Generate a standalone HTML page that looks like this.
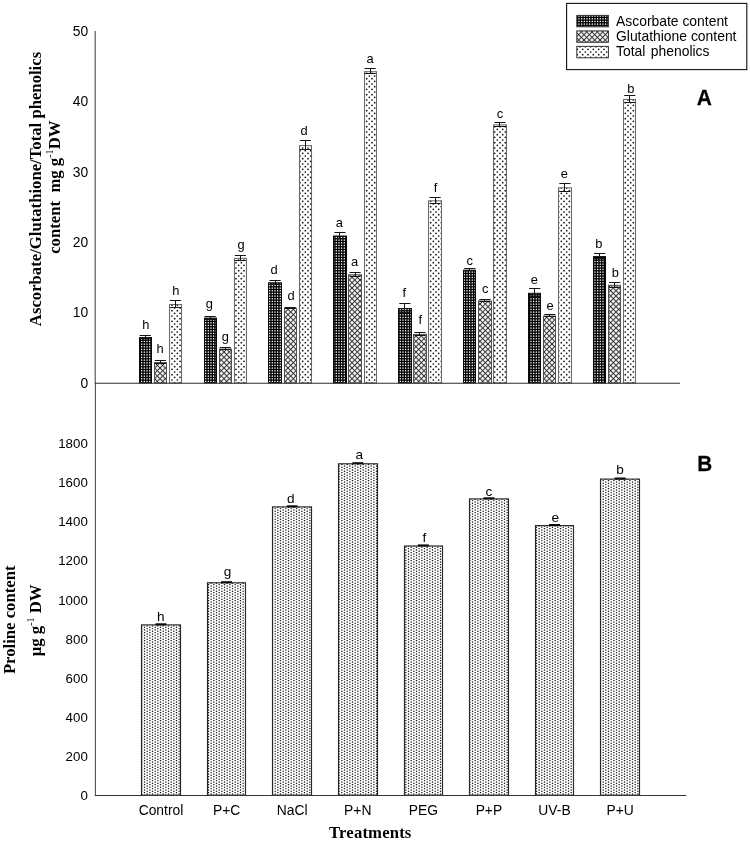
<!DOCTYPE html>
<html><head><meta charset="utf-8"><title>Chart</title>
<style>html,body{margin:0;padding:0;background:#fff}svg{display:block;will-change:transform}text{font-family:"Liberation Sans",sans-serif;fill:#000}.s{font-family:"Liberation Serif",serif;font-weight:bold}</style></head><body>
<svg width="750" height="841" viewBox="0 0 750 841">
<rect width="750" height="841" fill="#fff"/>
<defs>
<pattern id="pa" x="0" y="0" width="8" height="8" patternUnits="userSpaceOnUse"><rect width="8" height="8" fill="#000"/><rect x="-3.017" y="-3.167" width="1.3" height="1.3" fill="#fff"/><rect x="-3.017" y="-0.500" width="1.3" height="1.3" fill="#fff"/><rect x="-3.017" y="2.167" width="1.3" height="1.3" fill="#fff"/><rect x="-3.017" y="4.833" width="1.3" height="1.3" fill="#fff"/><rect x="-3.017" y="7.500" width="1.3" height="1.3" fill="#fff"/><rect x="-0.350" y="-3.167" width="1.3" height="1.3" fill="#fff"/><rect x="-0.350" y="-0.500" width="1.3" height="1.3" fill="#fff"/><rect x="-0.350" y="2.167" width="1.3" height="1.3" fill="#fff"/><rect x="-0.350" y="4.833" width="1.3" height="1.3" fill="#fff"/><rect x="-0.350" y="7.500" width="1.3" height="1.3" fill="#fff"/><rect x="2.317" y="-3.167" width="1.3" height="1.3" fill="#fff"/><rect x="2.317" y="-0.500" width="1.3" height="1.3" fill="#fff"/><rect x="2.317" y="2.167" width="1.3" height="1.3" fill="#fff"/><rect x="2.317" y="4.833" width="1.3" height="1.3" fill="#fff"/><rect x="2.317" y="7.500" width="1.3" height="1.3" fill="#fff"/><rect x="4.983" y="-3.167" width="1.3" height="1.3" fill="#fff"/><rect x="4.983" y="-0.500" width="1.3" height="1.3" fill="#fff"/><rect x="4.983" y="2.167" width="1.3" height="1.3" fill="#fff"/><rect x="4.983" y="4.833" width="1.3" height="1.3" fill="#fff"/><rect x="4.983" y="7.500" width="1.3" height="1.3" fill="#fff"/><rect x="7.650" y="-3.167" width="1.3" height="1.3" fill="#fff"/><rect x="7.650" y="-0.500" width="1.3" height="1.3" fill="#fff"/><rect x="7.650" y="2.167" width="1.3" height="1.3" fill="#fff"/><rect x="7.650" y="4.833" width="1.3" height="1.3" fill="#fff"/><rect x="7.650" y="7.500" width="1.3" height="1.3" fill="#fff"/></pattern>
<pattern id="pg" x="0" y="0" width="16" height="16" patternUnits="userSpaceOnUse"><rect width="16" height="16" fill="#c0c0c0"/><circle cx="-2.667" cy="-5.333" r="1.05" fill="#fff"/><circle cx="-5.333" cy="-2.667" r="1.05" fill="#fff"/><circle cx="-2.667" cy="0.000" r="1.05" fill="#fff"/><circle cx="-5.333" cy="2.667" r="1.05" fill="#fff"/><circle cx="-2.667" cy="5.333" r="1.05" fill="#fff"/><circle cx="-5.333" cy="8.000" r="1.05" fill="#fff"/><circle cx="-2.667" cy="10.667" r="1.05" fill="#fff"/><circle cx="-5.333" cy="13.333" r="1.05" fill="#fff"/><circle cx="-2.667" cy="16.000" r="1.05" fill="#fff"/><circle cx="-5.333" cy="18.667" r="1.05" fill="#fff"/><circle cx="-2.667" cy="21.333" r="1.05" fill="#fff"/><circle cx="-5.333" cy="24.000" r="1.05" fill="#fff"/><circle cx="2.667" cy="-5.333" r="1.05" fill="#fff"/><circle cx="0.000" cy="-2.667" r="1.05" fill="#fff"/><circle cx="2.667" cy="0.000" r="1.05" fill="#fff"/><circle cx="0.000" cy="2.667" r="1.05" fill="#fff"/><circle cx="2.667" cy="5.333" r="1.05" fill="#fff"/><circle cx="0.000" cy="8.000" r="1.05" fill="#fff"/><circle cx="2.667" cy="10.667" r="1.05" fill="#fff"/><circle cx="0.000" cy="13.333" r="1.05" fill="#fff"/><circle cx="2.667" cy="16.000" r="1.05" fill="#fff"/><circle cx="0.000" cy="18.667" r="1.05" fill="#fff"/><circle cx="2.667" cy="21.333" r="1.05" fill="#fff"/><circle cx="0.000" cy="24.000" r="1.05" fill="#fff"/><circle cx="8.000" cy="-5.333" r="1.05" fill="#fff"/><circle cx="5.333" cy="-2.667" r="1.05" fill="#fff"/><circle cx="8.000" cy="0.000" r="1.05" fill="#fff"/><circle cx="5.333" cy="2.667" r="1.05" fill="#fff"/><circle cx="8.000" cy="5.333" r="1.05" fill="#fff"/><circle cx="5.333" cy="8.000" r="1.05" fill="#fff"/><circle cx="8.000" cy="10.667" r="1.05" fill="#fff"/><circle cx="5.333" cy="13.333" r="1.05" fill="#fff"/><circle cx="8.000" cy="16.000" r="1.05" fill="#fff"/><circle cx="5.333" cy="18.667" r="1.05" fill="#fff"/><circle cx="8.000" cy="21.333" r="1.05" fill="#fff"/><circle cx="5.333" cy="24.000" r="1.05" fill="#fff"/><circle cx="13.333" cy="-5.333" r="1.05" fill="#fff"/><circle cx="10.667" cy="-2.667" r="1.05" fill="#fff"/><circle cx="13.333" cy="0.000" r="1.05" fill="#fff"/><circle cx="10.667" cy="2.667" r="1.05" fill="#fff"/><circle cx="13.333" cy="5.333" r="1.05" fill="#fff"/><circle cx="10.667" cy="8.000" r="1.05" fill="#fff"/><circle cx="13.333" cy="10.667" r="1.05" fill="#fff"/><circle cx="10.667" cy="13.333" r="1.05" fill="#fff"/><circle cx="13.333" cy="16.000" r="1.05" fill="#fff"/><circle cx="10.667" cy="18.667" r="1.05" fill="#fff"/><circle cx="13.333" cy="21.333" r="1.05" fill="#fff"/><circle cx="10.667" cy="24.000" r="1.05" fill="#fff"/><circle cx="18.667" cy="-5.333" r="1.05" fill="#fff"/><circle cx="16.000" cy="-2.667" r="1.05" fill="#fff"/><circle cx="18.667" cy="0.000" r="1.05" fill="#fff"/><circle cx="16.000" cy="2.667" r="1.05" fill="#fff"/><circle cx="18.667" cy="5.333" r="1.05" fill="#fff"/><circle cx="16.000" cy="8.000" r="1.05" fill="#fff"/><circle cx="18.667" cy="10.667" r="1.05" fill="#fff"/><circle cx="16.000" cy="13.333" r="1.05" fill="#fff"/><circle cx="18.667" cy="16.000" r="1.05" fill="#fff"/><circle cx="16.000" cy="18.667" r="1.05" fill="#fff"/><circle cx="18.667" cy="21.333" r="1.05" fill="#fff"/><circle cx="16.000" cy="24.000" r="1.05" fill="#fff"/><circle cx="24.000" cy="-5.333" r="1.05" fill="#fff"/><circle cx="21.333" cy="-2.667" r="1.05" fill="#fff"/><circle cx="24.000" cy="0.000" r="1.05" fill="#fff"/><circle cx="21.333" cy="2.667" r="1.05" fill="#fff"/><circle cx="24.000" cy="5.333" r="1.05" fill="#fff"/><circle cx="21.333" cy="8.000" r="1.05" fill="#fff"/><circle cx="24.000" cy="10.667" r="1.05" fill="#fff"/><circle cx="21.333" cy="13.333" r="1.05" fill="#fff"/><circle cx="24.000" cy="16.000" r="1.05" fill="#fff"/><circle cx="21.333" cy="18.667" r="1.05" fill="#fff"/><circle cx="24.000" cy="21.333" r="1.05" fill="#fff"/><circle cx="21.333" cy="24.000" r="1.05" fill="#fff"/><path d="M-21.333,0l16,16M-21.333,0l-16,16M-16.000,0l16,16M-16.000,0l-16,16M-10.667,0l16,16M-10.667,0l-16,16M-5.333,0l16,16M-5.333,0l-16,16M0.000,0l16,16M0.000,0l-16,16M5.333,0l16,16M5.333,0l-16,16M10.667,0l16,16M10.667,0l-16,16M16.000,0l16,16M16.000,0l-16,16M21.333,0l16,16M21.333,0l-16,16M26.667,0l16,16M26.667,0l-16,16M32.000,0l16,16M32.000,0l-16,16M37.333,0l16,16M37.333,0l-16,16" stroke="#222" stroke-width="0.92" fill="none"/></pattern>
<pattern id="pp" x="0" y="0" width="16" height="16" patternUnits="userSpaceOnUse"><rect width="16" height="16" fill="#fff"/><circle cx="-4.000" cy="-4.000" r="0.85" fill="#0c0c0c"/><circle cx="-1.333" cy="-1.333" r="0.85" fill="#0c0c0c"/><circle cx="-4.000" cy="1.333" r="0.85" fill="#0c0c0c"/><circle cx="-1.333" cy="4.000" r="0.85" fill="#0c0c0c"/><circle cx="-4.000" cy="6.667" r="0.85" fill="#0c0c0c"/><circle cx="-1.333" cy="9.333" r="0.85" fill="#0c0c0c"/><circle cx="-4.000" cy="12.000" r="0.85" fill="#0c0c0c"/><circle cx="-1.333" cy="14.667" r="0.85" fill="#0c0c0c"/><circle cx="-4.000" cy="17.333" r="0.85" fill="#0c0c0c"/><circle cx="-1.333" cy="20.000" r="0.85" fill="#0c0c0c"/><circle cx="1.333" cy="-4.000" r="0.85" fill="#0c0c0c"/><circle cx="4.000" cy="-1.333" r="0.85" fill="#0c0c0c"/><circle cx="1.333" cy="1.333" r="0.85" fill="#0c0c0c"/><circle cx="4.000" cy="4.000" r="0.85" fill="#0c0c0c"/><circle cx="1.333" cy="6.667" r="0.85" fill="#0c0c0c"/><circle cx="4.000" cy="9.333" r="0.85" fill="#0c0c0c"/><circle cx="1.333" cy="12.000" r="0.85" fill="#0c0c0c"/><circle cx="4.000" cy="14.667" r="0.85" fill="#0c0c0c"/><circle cx="1.333" cy="17.333" r="0.85" fill="#0c0c0c"/><circle cx="4.000" cy="20.000" r="0.85" fill="#0c0c0c"/><circle cx="6.667" cy="-4.000" r="0.85" fill="#0c0c0c"/><circle cx="9.333" cy="-1.333" r="0.85" fill="#0c0c0c"/><circle cx="6.667" cy="1.333" r="0.85" fill="#0c0c0c"/><circle cx="9.333" cy="4.000" r="0.85" fill="#0c0c0c"/><circle cx="6.667" cy="6.667" r="0.85" fill="#0c0c0c"/><circle cx="9.333" cy="9.333" r="0.85" fill="#0c0c0c"/><circle cx="6.667" cy="12.000" r="0.85" fill="#0c0c0c"/><circle cx="9.333" cy="14.667" r="0.85" fill="#0c0c0c"/><circle cx="6.667" cy="17.333" r="0.85" fill="#0c0c0c"/><circle cx="9.333" cy="20.000" r="0.85" fill="#0c0c0c"/><circle cx="12.000" cy="-4.000" r="0.85" fill="#0c0c0c"/><circle cx="14.667" cy="-1.333" r="0.85" fill="#0c0c0c"/><circle cx="12.000" cy="1.333" r="0.85" fill="#0c0c0c"/><circle cx="14.667" cy="4.000" r="0.85" fill="#0c0c0c"/><circle cx="12.000" cy="6.667" r="0.85" fill="#0c0c0c"/><circle cx="14.667" cy="9.333" r="0.85" fill="#0c0c0c"/><circle cx="12.000" cy="12.000" r="0.85" fill="#0c0c0c"/><circle cx="14.667" cy="14.667" r="0.85" fill="#0c0c0c"/><circle cx="12.000" cy="17.333" r="0.85" fill="#0c0c0c"/><circle cx="14.667" cy="20.000" r="0.85" fill="#0c0c0c"/><circle cx="17.333" cy="-4.000" r="0.85" fill="#0c0c0c"/><circle cx="20.000" cy="-1.333" r="0.85" fill="#0c0c0c"/><circle cx="17.333" cy="1.333" r="0.85" fill="#0c0c0c"/><circle cx="20.000" cy="4.000" r="0.85" fill="#0c0c0c"/><circle cx="17.333" cy="6.667" r="0.85" fill="#0c0c0c"/><circle cx="20.000" cy="9.333" r="0.85" fill="#0c0c0c"/><circle cx="17.333" cy="12.000" r="0.85" fill="#0c0c0c"/><circle cx="20.000" cy="14.667" r="0.85" fill="#0c0c0c"/><circle cx="17.333" cy="17.333" r="0.85" fill="#0c0c0c"/><circle cx="20.000" cy="20.000" r="0.85" fill="#0c0c0c"/></pattern>
<pattern id="pr" x="0" y="0" width="16" height="8" patternUnits="userSpaceOnUse"><rect width="16" height="8" fill="#fff"/><circle cx="-4.833" cy="-2.067" r="0.72" fill="#0a0a0a"/><circle cx="-2.167" cy="-0.733" r="0.72" fill="#0a0a0a"/><circle cx="-4.833" cy="0.600" r="0.72" fill="#0a0a0a"/><circle cx="-2.167" cy="1.933" r="0.72" fill="#0a0a0a"/><circle cx="-4.833" cy="3.267" r="0.72" fill="#0a0a0a"/><circle cx="-2.167" cy="4.600" r="0.72" fill="#0a0a0a"/><circle cx="-4.833" cy="5.933" r="0.72" fill="#0a0a0a"/><circle cx="-2.167" cy="7.267" r="0.72" fill="#0a0a0a"/><circle cx="-4.833" cy="8.600" r="0.72" fill="#0a0a0a"/><circle cx="-2.167" cy="9.933" r="0.72" fill="#0a0a0a"/><circle cx="0.500" cy="-2.067" r="0.72" fill="#0a0a0a"/><circle cx="3.167" cy="-0.733" r="0.72" fill="#0a0a0a"/><circle cx="0.500" cy="0.600" r="0.72" fill="#0a0a0a"/><circle cx="3.167" cy="1.933" r="0.72" fill="#0a0a0a"/><circle cx="0.500" cy="3.267" r="0.72" fill="#0a0a0a"/><circle cx="3.167" cy="4.600" r="0.72" fill="#0a0a0a"/><circle cx="0.500" cy="5.933" r="0.72" fill="#0a0a0a"/><circle cx="3.167" cy="7.267" r="0.72" fill="#0a0a0a"/><circle cx="0.500" cy="8.600" r="0.72" fill="#0a0a0a"/><circle cx="3.167" cy="9.933" r="0.72" fill="#0a0a0a"/><circle cx="5.833" cy="-2.067" r="0.72" fill="#0a0a0a"/><circle cx="8.500" cy="-0.733" r="0.72" fill="#0a0a0a"/><circle cx="5.833" cy="0.600" r="0.72" fill="#0a0a0a"/><circle cx="8.500" cy="1.933" r="0.72" fill="#0a0a0a"/><circle cx="5.833" cy="3.267" r="0.72" fill="#0a0a0a"/><circle cx="8.500" cy="4.600" r="0.72" fill="#0a0a0a"/><circle cx="5.833" cy="5.933" r="0.72" fill="#0a0a0a"/><circle cx="8.500" cy="7.267" r="0.72" fill="#0a0a0a"/><circle cx="5.833" cy="8.600" r="0.72" fill="#0a0a0a"/><circle cx="8.500" cy="9.933" r="0.72" fill="#0a0a0a"/><circle cx="11.167" cy="-2.067" r="0.72" fill="#0a0a0a"/><circle cx="13.833" cy="-0.733" r="0.72" fill="#0a0a0a"/><circle cx="11.167" cy="0.600" r="0.72" fill="#0a0a0a"/><circle cx="13.833" cy="1.933" r="0.72" fill="#0a0a0a"/><circle cx="11.167" cy="3.267" r="0.72" fill="#0a0a0a"/><circle cx="13.833" cy="4.600" r="0.72" fill="#0a0a0a"/><circle cx="11.167" cy="5.933" r="0.72" fill="#0a0a0a"/><circle cx="13.833" cy="7.267" r="0.72" fill="#0a0a0a"/><circle cx="11.167" cy="8.600" r="0.72" fill="#0a0a0a"/><circle cx="13.833" cy="9.933" r="0.72" fill="#0a0a0a"/><circle cx="16.500" cy="-2.067" r="0.72" fill="#0a0a0a"/><circle cx="19.167" cy="-0.733" r="0.72" fill="#0a0a0a"/><circle cx="16.500" cy="0.600" r="0.72" fill="#0a0a0a"/><circle cx="19.167" cy="1.933" r="0.72" fill="#0a0a0a"/><circle cx="16.500" cy="3.267" r="0.72" fill="#0a0a0a"/><circle cx="19.167" cy="4.600" r="0.72" fill="#0a0a0a"/><circle cx="16.500" cy="5.933" r="0.72" fill="#0a0a0a"/><circle cx="19.167" cy="7.267" r="0.72" fill="#0a0a0a"/><circle cx="16.500" cy="8.600" r="0.72" fill="#0a0a0a"/><circle cx="19.167" cy="9.933" r="0.72" fill="#0a0a0a"/></pattern>
</defs>
<rect x="139.50" y="337.60" width="12.00" height="45.30" fill="url(#pa)" stroke="#0a0a0a" stroke-width="1"/>
<path d="M139.65,335.50H150.85M139.65,338.50H150.85M145.50,335.50V338.50" stroke="#151515" stroke-width="1.0" fill="none"/>
<text font-size="12.9" text-anchor="middle" transform="translate(145.90,329.40) scale(1,1.04)">h</text>
<rect x="154.50" y="362.50" width="12.00" height="20.40" fill="url(#pg)" stroke="#505050" stroke-width="1"/>
<path d="M154.75,360.50H165.95M154.75,363.50H165.95M160.50,360.50V363.50" stroke="#151515" stroke-width="1.0" fill="none"/>
<text font-size="12.9" text-anchor="middle" transform="translate(160.00,352.60) scale(1,1.04)">h</text>
<rect x="169.50" y="304.50" width="12.00" height="78.40" fill="url(#pp)" stroke="#6a6a6a" stroke-width="1.05"/>
<path d="M169.85,300.50H181.05M169.85,307.50H181.05M175.50,300.50V307.50" stroke="#151515" stroke-width="1.0" fill="none"/>
<text font-size="12.9" text-anchor="middle" transform="translate(175.90,294.60) scale(1,1.04)">h</text>
<rect x="204.50" y="318.10" width="12.00" height="64.80" fill="url(#pa)" stroke="#0a0a0a" stroke-width="1"/>
<path d="M204.56,316.50H215.76M204.56,319.50H215.76M210.50,316.50V319.50" stroke="#151515" stroke-width="1.0" fill="none"/>
<text font-size="12.9" text-anchor="middle" transform="translate(209.30,307.90) scale(1,1.04)">g</text>
<rect x="219.50" y="349.10" width="12.00" height="33.80" fill="url(#pg)" stroke="#505050" stroke-width="1"/>
<path d="M219.66,347.50H230.86M219.66,349.50H230.86M225.50,347.50V349.50" stroke="#151515" stroke-width="1.0" fill="none"/>
<text font-size="12.9" text-anchor="middle" transform="translate(225.40,341.00) scale(1,1.04)">g</text>
<rect x="234.50" y="258.40" width="12.00" height="124.50" fill="url(#pp)" stroke="#6a6a6a" stroke-width="1.05"/>
<path d="M234.76,255.50H245.96M234.76,260.50H245.96M240.50,255.50V260.50" stroke="#151515" stroke-width="1.0" fill="none"/>
<text font-size="12.9" text-anchor="middle" transform="translate(241.10,248.70) scale(1,1.04)">g</text>
<rect x="268.50" y="282.80" width="13.00" height="100.10" fill="url(#pa)" stroke="#0a0a0a" stroke-width="1"/>
<path d="M269.47,280.50H280.67M269.47,284.50H280.67M275.50,280.50V284.50" stroke="#151515" stroke-width="1.0" fill="none"/>
<text font-size="12.9" text-anchor="middle" transform="translate(274.20,273.80) scale(1,1.04)">d</text>
<rect x="284.50" y="308.50" width="12.00" height="74.40" fill="url(#pg)" stroke="#505050" stroke-width="1"/>
<path d="M284.57,307.50H295.77M284.57,308.50H295.77M290.50,307.50V308.50" stroke="#151515" stroke-width="1.0" fill="none"/>
<text font-size="12.9" text-anchor="middle" transform="translate(291.10,300.30) scale(1,1.04)">d</text>
<rect x="299.50" y="145.60" width="12.00" height="237.30" fill="url(#pp)" stroke="#6a6a6a" stroke-width="1.05"/>
<path d="M299.67,140.50H310.87M299.67,149.50H310.87M305.50,140.50V149.50" stroke="#151515" stroke-width="1.0" fill="none"/>
<text font-size="12.9" text-anchor="middle" transform="translate(304.00,135.30) scale(1,1.04)">d</text>
<rect x="333.50" y="236.00" width="13.00" height="146.90" fill="url(#pa)" stroke="#0a0a0a" stroke-width="1"/>
<path d="M334.38,232.50H345.58M334.38,238.50H345.58M339.50,232.50V238.50" stroke="#151515" stroke-width="1.0" fill="none"/>
<text font-size="12.9" text-anchor="middle" transform="translate(339.30,226.70) scale(1,1.04)">a</text>
<rect x="348.50" y="274.80" width="13.00" height="108.10" fill="url(#pg)" stroke="#505050" stroke-width="1"/>
<path d="M349.48,272.50H360.68M349.48,276.50H360.68M355.50,272.50V276.50" stroke="#151515" stroke-width="1.0" fill="none"/>
<text font-size="12.9" text-anchor="middle" transform="translate(354.60,265.60) scale(1,1.04)">a</text>
<rect x="364.50" y="71.70" width="12.00" height="311.20" fill="url(#pp)" stroke="#6a6a6a" stroke-width="1.05"/>
<path d="M364.58,68.50H375.78M364.58,73.50H375.78M370.50,68.50V73.50" stroke="#151515" stroke-width="1.0" fill="none"/>
<text font-size="12.9" text-anchor="middle" transform="translate(370.10,63.30) scale(1,1.04)">a</text>
<rect x="398.50" y="308.60" width="13.00" height="74.30" fill="url(#pa)" stroke="#0a0a0a" stroke-width="1"/>
<path d="M399.29,303.50H410.49M399.29,312.50H410.49M404.50,303.50V312.50" stroke="#151515" stroke-width="1.0" fill="none"/>
<text font-size="12.9" text-anchor="middle" transform="translate(404.40,296.60) scale(1,1.04)">f</text>
<rect x="413.50" y="334.40" width="13.00" height="48.50" fill="url(#pg)" stroke="#505050" stroke-width="1"/>
<path d="M414.39,332.50H425.59M414.39,335.50H425.59M419.50,332.50V335.50" stroke="#151515" stroke-width="1.0" fill="none"/>
<text font-size="12.9" text-anchor="middle" transform="translate(420.30,324.40) scale(1,1.04)">f</text>
<rect x="428.50" y="200.80" width="13.00" height="182.10" fill="url(#pp)" stroke="#6a6a6a" stroke-width="1.05"/>
<path d="M429.49,197.50H440.69M429.49,203.50H440.69M435.50,197.50V203.50" stroke="#151515" stroke-width="1.0" fill="none"/>
<text font-size="12.9" text-anchor="middle" transform="translate(435.50,191.70) scale(1,1.04)">f</text>
<rect x="463.50" y="270.20" width="12.00" height="112.70" fill="url(#pa)" stroke="#0a0a0a" stroke-width="1"/>
<path d="M464.20,268.50H475.40M464.20,270.50H475.40M469.50,268.50V270.50" stroke="#151515" stroke-width="1.0" fill="none"/>
<text font-size="12.9" text-anchor="middle" transform="translate(469.80,264.50) scale(1,1.04)">c</text>
<rect x="478.50" y="301.00" width="13.00" height="81.90" fill="url(#pg)" stroke="#505050" stroke-width="1"/>
<path d="M479.30,299.50H490.50M479.30,301.50H490.50M484.50,299.50V301.50" stroke="#151515" stroke-width="1.0" fill="none"/>
<text font-size="12.9" text-anchor="middle" transform="translate(485.20,293.10) scale(1,1.04)">c</text>
<rect x="493.50" y="124.90" width="13.00" height="258.00" fill="url(#pp)" stroke="#6a6a6a" stroke-width="1.05"/>
<path d="M494.40,122.50H505.60M494.40,126.50H505.60M499.50,122.50V126.50" stroke="#151515" stroke-width="1.0" fill="none"/>
<text font-size="12.9" text-anchor="middle" transform="translate(500.00,118.30) scale(1,1.04)">c</text>
<rect x="528.50" y="293.30" width="12.00" height="89.60" fill="url(#pa)" stroke="#0a0a0a" stroke-width="1"/>
<path d="M529.11,288.50H540.31M529.11,296.50H540.31M534.50,288.50V296.50" stroke="#151515" stroke-width="1.0" fill="none"/>
<text font-size="12.9" text-anchor="middle" transform="translate(534.30,283.60) scale(1,1.04)">e</text>
<rect x="543.50" y="316.10" width="12.00" height="66.80" fill="url(#pg)" stroke="#505050" stroke-width="1"/>
<path d="M544.21,314.50H555.41M544.21,316.50H555.41M549.50,314.50V316.50" stroke="#151515" stroke-width="1.0" fill="none"/>
<text font-size="12.9" text-anchor="middle" transform="translate(550.20,309.80) scale(1,1.04)">e</text>
<rect x="558.50" y="187.80" width="13.00" height="195.10" fill="url(#pp)" stroke="#6a6a6a" stroke-width="1.05"/>
<path d="M559.31,183.50H570.51M559.31,191.50H570.51M564.50,183.50V191.50" stroke="#151515" stroke-width="1.0" fill="none"/>
<text font-size="12.9" text-anchor="middle" transform="translate(564.30,177.80) scale(1,1.04)">e</text>
<rect x="593.50" y="256.60" width="12.00" height="126.30" fill="url(#pa)" stroke="#0a0a0a" stroke-width="1"/>
<path d="M594.02,253.50H605.22M594.02,258.50H605.22M599.50,253.50V258.50" stroke="#151515" stroke-width="1.0" fill="none"/>
<text font-size="12.9" text-anchor="middle" transform="translate(598.80,248.30) scale(1,1.04)">b</text>
<rect x="608.50" y="285.30" width="12.00" height="97.60" fill="url(#pg)" stroke="#505050" stroke-width="1"/>
<path d="M609.12,282.50H620.32M609.12,287.50H620.32M614.50,282.50V287.50" stroke="#151515" stroke-width="1.0" fill="none"/>
<text font-size="12.9" text-anchor="middle" transform="translate(615.30,277.30) scale(1,1.04)">b</text>
<rect x="623.50" y="99.50" width="12.00" height="283.40" fill="url(#pp)" stroke="#6a6a6a" stroke-width="1.05"/>
<path d="M624.22,95.50H635.42M624.22,102.50H635.42M629.50,95.50V102.50" stroke="#151515" stroke-width="1.0" fill="none"/>
<text font-size="12.9" text-anchor="middle" transform="translate(630.80,92.80) scale(1,1.04)">b</text>
<rect x="141.50" y="624.90" width="39.00" height="170.30" fill="url(#pr)" stroke="#262626" stroke-width="1.15"/>
<path d="M155.50,624.30H166.50" stroke="#0a0a0a" stroke-width="2"/>
<text font-size="13.6" text-anchor="middle" transform="translate(160.90,620.50) scale(1,1.0)">h</text>
<text x="161.00" y="814.80" font-size="13.85" text-anchor="middle">Control</text>
<rect x="207.50" y="582.80" width="38.00" height="212.40" fill="url(#pr)" stroke="#262626" stroke-width="1.15"/>
<path d="M221.09,582.20H232.09" stroke="#0a0a0a" stroke-width="2"/>
<text font-size="13.6" text-anchor="middle" transform="translate(227.60,576.40) scale(1,1.0)">g</text>
<text x="226.59" y="814.80" font-size="13.85" text-anchor="middle">P+C</text>
<rect x="272.50" y="506.90" width="39.00" height="288.30" fill="url(#pr)" stroke="#262626" stroke-width="1.15"/>
<path d="M286.67,506.30H297.67" stroke="#0a0a0a" stroke-width="2"/>
<text font-size="13.6" text-anchor="middle" transform="translate(290.90,503.40) scale(1,1.0)">d</text>
<text x="292.17" y="814.80" font-size="13.85" text-anchor="middle">NaCl</text>
<rect x="338.50" y="463.80" width="39.00" height="331.40" fill="url(#pr)" stroke="#262626" stroke-width="1.15"/>
<path d="M352.26,463.20H363.26" stroke="#0a0a0a" stroke-width="2"/>
<text font-size="13.6" text-anchor="middle" transform="translate(359.30,459.00) scale(1,1.0)">a</text>
<text x="357.76" y="814.80" font-size="13.85" text-anchor="middle">P+N</text>
<rect x="404.50" y="546.00" width="38.00" height="249.20" fill="url(#pr)" stroke="#262626" stroke-width="1.15"/>
<path d="M417.84,545.40H428.84" stroke="#0a0a0a" stroke-width="2"/>
<text font-size="13.6" text-anchor="middle" transform="translate(424.40,541.50) scale(1,1.0)">f</text>
<text x="423.34" y="814.80" font-size="13.85" text-anchor="middle">PEG</text>
<rect x="469.50" y="498.90" width="39.00" height="296.30" fill="url(#pr)" stroke="#262626" stroke-width="1.15"/>
<path d="M483.43,498.30H494.43" stroke="#0a0a0a" stroke-width="2"/>
<text font-size="13.6" text-anchor="middle" transform="translate(488.80,495.90) scale(1,1.0)">c</text>
<text x="488.93" y="814.80" font-size="13.85" text-anchor="middle">P+P</text>
<rect x="535.50" y="525.60" width="38.00" height="269.60" fill="url(#pr)" stroke="#262626" stroke-width="1.15"/>
<path d="M549.02,525.00H560.02" stroke="#0a0a0a" stroke-width="2"/>
<text font-size="13.6" text-anchor="middle" transform="translate(555.20,522.30) scale(1,1.0)">e</text>
<text x="554.52" y="814.80" font-size="13.85" text-anchor="middle">UV-B</text>
<rect x="600.50" y="479.10" width="39.00" height="316.10" fill="url(#pr)" stroke="#262626" stroke-width="1.15"/>
<path d="M614.60,478.50H625.60" stroke="#0a0a0a" stroke-width="2"/>
<text font-size="13.6" text-anchor="middle" transform="translate(620.00,474.30) scale(1,1.0)">b</text>
<text x="620.10" y="814.80" font-size="13.85" text-anchor="middle">P+U</text>
<path d="M95.2,31.00V383.7" stroke="#4a4a4a" stroke-width="1.1" fill="none"/>
<path d="M95.4,383V796" stroke="#4a4a4a" stroke-width="1.05" fill="none"/>
<path d="M95.0,383.25H680.00" stroke="#2c2c2c" stroke-width="1.05" fill="none"/>
<path d="M94.8,795.45H686.40" stroke="#333" stroke-width="1.05" fill="none"/>
<text x="88.20" y="387.85" font-size="13.85" text-anchor="end">0</text>
<text x="88.20" y="317.47" font-size="13.85" text-anchor="end">10</text>
<text x="88.20" y="247.09" font-size="13.85" text-anchor="end">20</text>
<text x="88.20" y="176.71" font-size="13.85" text-anchor="end">30</text>
<text x="88.20" y="106.33" font-size="13.85" text-anchor="end">40</text>
<text x="88.20" y="35.95" font-size="13.85" text-anchor="end">50</text>
<text x="87.80" y="799.95" font-size="13.3" text-anchor="end">0</text>
<text x="87.80" y="760.86" font-size="13.3" text-anchor="end">200</text>
<text x="87.80" y="721.77" font-size="13.3" text-anchor="end">400</text>
<text x="87.80" y="682.68" font-size="13.3" text-anchor="end">600</text>
<text x="87.80" y="643.59" font-size="13.3" text-anchor="end">800</text>
<text x="87.80" y="604.51" font-size="13.3" text-anchor="end">1000</text>
<text x="87.80" y="565.42" font-size="13.3" text-anchor="end">1200</text>
<text x="87.80" y="526.33" font-size="13.3" text-anchor="end">1400</text>
<text x="87.80" y="487.24" font-size="13.3" text-anchor="end">1600</text>
<text x="87.80" y="448.15" font-size="13.3" text-anchor="end">1800</text>
<text class="s" font-size="16.7" text-anchor="middle" transform="translate(41.00,189.00) rotate(-90)">Ascorbate/Glutathione/Total phenolics</text>
<text class="s" font-size="16.7" text-anchor="middle" transform="translate(59.60,187.20) rotate(-90)">content&#160;&#160;mg g<tspan dy="-7" font-size="10.2" font-weight="normal">-1</tspan><tspan dy="7">DW</tspan></text>
<text class="s" font-size="16.7" text-anchor="middle" transform="translate(15.00,619.80) rotate(-90)">Proline content</text>
<text class="s" font-size="16.7" text-anchor="middle" transform="translate(40.80,620.40) rotate(-90)">&#181;g g<tspan dy="-7" font-size="10.2" font-weight="normal">-1</tspan><tspan dy="7">&#160;DW</tspan></text>
<text class="s" x="370.3" y="837.5" font-size="16.7" text-anchor="middle" letter-spacing="0.15">Treatments</text>
<text font-size="21.8" font-weight="bold" text-anchor="middle" stroke="#000" stroke-width="0.25" transform="translate(704.4,105) scale(0.96,1)">A</text>
<text font-size="21.8" font-weight="bold" text-anchor="middle" stroke="#000" stroke-width="0.25" transform="translate(704.7,470.9) scale(0.95,1)">B</text>
<rect x="566.6" y="3.4" width="180.2" height="66.2" fill="#fff" stroke="#111" stroke-width="1.1"/>
<rect x="576.8" y="15.40" width="31.6" height="11.4" fill="url(#pa)" stroke="#333" stroke-width="1"/>
<text x="616.00" y="26.00" font-size="13.9" text-anchor="start">Ascorbate content</text>
<rect x="576.8" y="30.90" width="31.6" height="11.4" fill="url(#pg)" stroke="#333" stroke-width="1"/>
<text x="616.00" y="41.20" font-size="13.9" text-anchor="start">Glutathione content</text>
<rect x="576.8" y="46.40" width="31.6" height="11.4" fill="url(#pp)" stroke="#333" stroke-width="1"/>
<text x="616.00" y="56.40" font-size="13.9" text-anchor="start" word-spacing="1.6">Total phenolics</text>
</svg></body></html>
